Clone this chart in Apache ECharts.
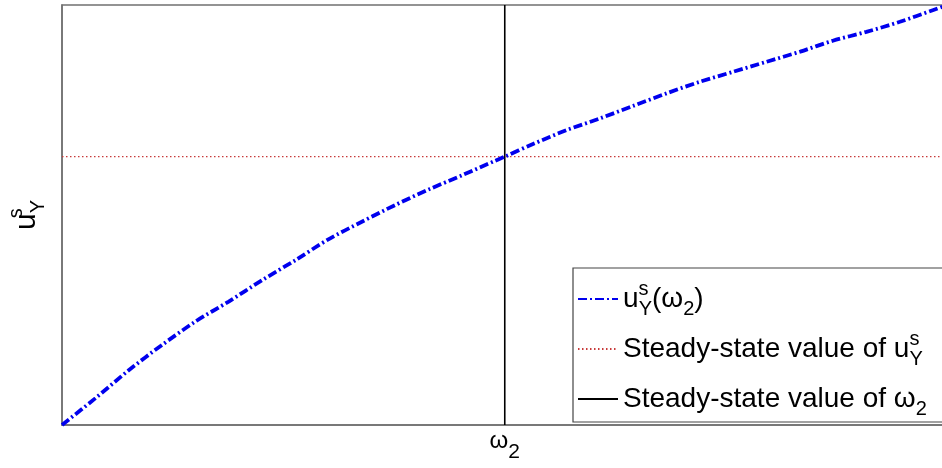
<!DOCTYPE html>
<html>
<head>
<meta charset="utf-8">
<script src="https://cdn.jsdelivr.net/npm/echarts@6/dist/echarts.min.js"></script>
<style>
html, body { margin: 0; padding: 0; background: #fff; }
#chart { width: 942px; height: 468px; }
</style>
</head>
<body>
<div id="chart"></div>
<script>
// curve u_Y^s(omega_2) (axes are unitless, 0..1)
const omegaValues = [0, 0.038, 0.076, 0.113, 0.151, 0.189, 0.227, 0.265, 0.302, 0.340,
                     0.378, 0.416, 0.454, 0.491, 0.502, 0.534, 0.572, 0.610, 0.648, 0.686,
                     0.723, 0.761, 0.799, 0.837, 0.874, 0.912, 0.950, 0.988, 1.0];
const usValues    = [0, 0.064, 0.131, 0.190, 0.246, 0.294, 0.345, 0.393, 0.442, 0.484,
                     0.524, 0.561, 0.595, 0.629, 0.639, 0.669, 0.702, 0.730, 0.760, 0.790,
                     0.817, 0.841, 0.865, 0.889, 0.915, 0.936, 0.960, 0.988, 0.997];
// steady-state values
const omega2Steady = 0.502;
const usSteady = 0.639;
const axisRange = [0, 1];

const seriesNames = ['curve', 'usSteady', 'omegaSteady'];
const legendLabels = {
    curve: 'u{sp|s}{sb|Y}(ω{sb|2})',
    usSteady: 'Steady-state value of u{sp|s}{sb|Y}',
    omegaSteady: 'Steady-state value of ω{sb|2}'
};

const font = 'Liberation Sans';
const chart = echarts.init(document.getElementById('chart'));

const scriptRich = {
    sp: {fontFamily: font, fontSize: 20, color: '#000', verticalAlign: 'top', width: 0.1},
    sb: {fontFamily: font, fontSize: 20, color: '#000', verticalAlign: 'bottom'}
};

const option = {
    animation: false,
    grid: {
        left: 62, right: -2, top: 5, bottom: 43,
        outerBoundsMode: 'none',
        show: true, borderColor: '#707070', borderWidth: 1.5
    },
    xAxis: {
        type: 'value', min: axisRange[0], max: axisRange[1],
        axisLine: {show: true, lineStyle: {color: '#707070', width: 1.5}},
        axisTick: {show: false},
        splitLine: {show: false},
        axisLabel: {
            customValues: [omega2Steady],
            margin: 4,
            formatter: () => '{w|ω}{s|2}',
            rich: {
                w: {fontFamily: font, fontSize: 24, color: '#000', lineHeight: 34, verticalAlign: 'top'},
                s: {fontFamily: font, fontSize: 21, color: '#000', verticalAlign: 'bottom'}
            }
        }
    },
    yAxis: {
        type: 'value', min: axisRange[0], max: axisRange[1],
        axisLine: {show: true, lineStyle: {color: '#707070', width: 1.5}},
        axisTick: {show: false},
        axisLabel: {show: false},
        splitLine: {show: false},
        name: 'u{sp|s}{sb|Y}',
        nameLocation: 'middle',
        nameRotate: 90,
        nameGap: 14,
        nameTextStyle: {
            fontFamily: font, fontSize: 30, color: '#000', lineHeight: 42,
            rich: scriptRich
        }
    },
    legend: {
        orient: 'vertical',
        left: 573, top: 268,
        padding: [11, 40, 3, 4],
        itemGap: 10,
        itemWidth: 40, itemHeight: 14,
        backgroundColor: '#fff',
        borderColor: '#444', borderWidth: 1.2,
        itemStyle: {opacity: 0},
        data: seriesNames,
        formatter: n => legendLabels[n],
        textStyle: {
            fontFamily: font, fontSize: 28, color: '#000', lineHeight: 40,
            rich: scriptRich
        }
    },
    series: [
        {
            name: seriesNames[0], type: 'line', symbol: 'none', z: 5,
            data: omegaValues.map((x, i) => [x, usValues[i]]),
            smooth: 0.3,
            lineStyle: {color: '#0000ee', width: 3.8, type: [9, 3, 2, 3], cap: 'butt'},
            itemStyle: {color: '#0000ee'}
        },
        {
            name: seriesNames[1], type: 'line', symbol: 'none', z: 3,
            data: [[axisRange[0], usSteady], [axisRange[1], usSteady]],
            lineStyle: {color: '#c83a3a', width: 1.3, type: [1.5, 2.5]},
            itemStyle: {color: '#c83a3a'}
        },
        {
            name: seriesNames[2], type: 'line', symbol: 'none', z: 4,
            data: [[omega2Steady, axisRange[0]], [omega2Steady, axisRange[1]]],
            lineStyle: {color: '#000', width: 1.6},
            itemStyle: {color: '#000'}
        }
    ]
};

chart.setOption(option);
</script>
</body>
</html>
